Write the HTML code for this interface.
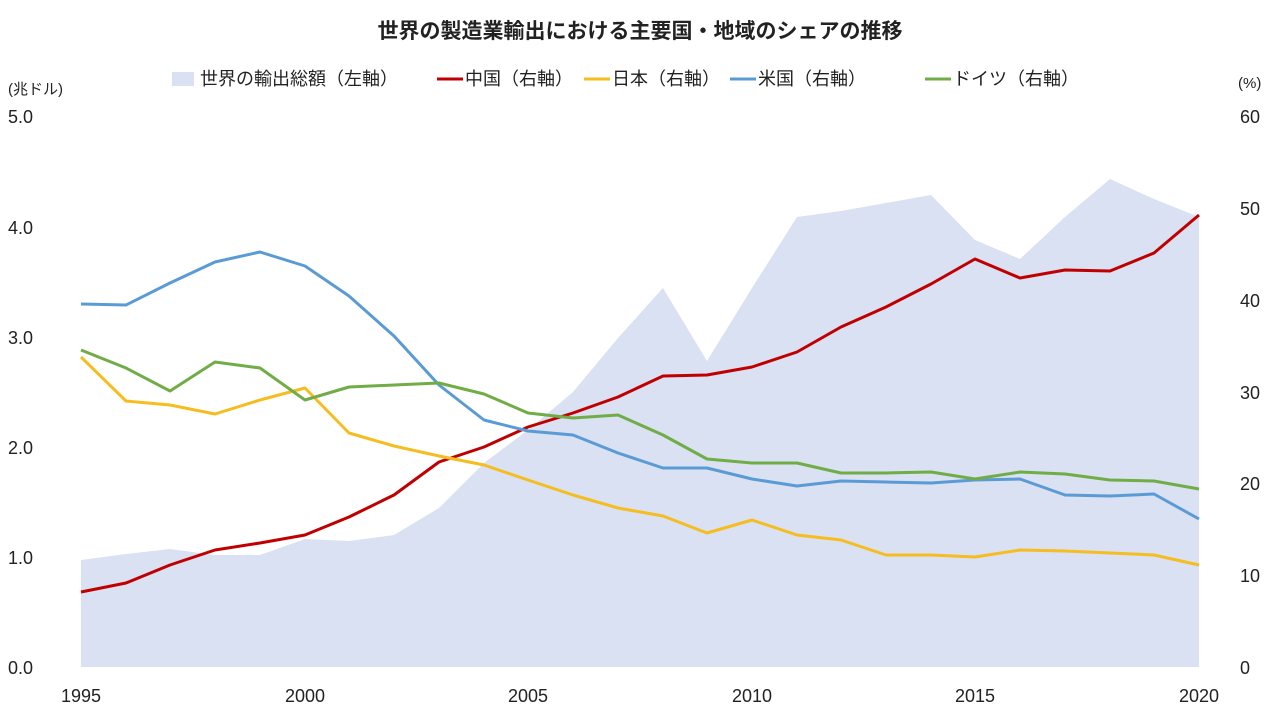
<!DOCTYPE html>
<html><head><meta charset="utf-8"><style>
body{margin:0;background:#fff;}
svg text{font-family:"Liberation Sans","Noto Sans CJK JP",sans-serif;fill:#222;}
</style></head><body>
<svg width="1280" height="720" xmlns="http://www.w3.org/2000/svg">
<text x="640" y="38" text-anchor="middle" font-size="21" font-weight="bold">世界の製造業輸出における主要国・地域のシェアの推移</text>
<rect x="172" y="72" width="22" height="14" fill="#d9e1f2"/>
<text x="200" y="85" font-size="18">世界の輸出総額（左軸）</text>
<line x1="437" y1="79" x2="463" y2="79" stroke="#c00000" stroke-width="3"/>
<text x="465" y="85" font-size="18">中国（右軸）</text>
<line x1="584" y1="79" x2="610" y2="79" stroke="#f5bd1f" stroke-width="3"/>
<text x="612" y="85" font-size="18">日本（右軸）</text>
<line x1="730" y1="79" x2="756" y2="79" stroke="#5b9bd5" stroke-width="3"/>
<text x="758" y="85" font-size="18">米国（右軸）</text>
<line x1="925" y1="79" x2="951" y2="79" stroke="#70ad47" stroke-width="3"/>
<text x="953" y="85" font-size="18">ドイツ（右軸）</text>
<text x="8" y="94" font-size="15">(兆ドル)</text>
<text x="1238" y="88" font-size="15">(%)</text>
<g font-size="18">
<text x="8" y="123">5.0</text><text x="8" y="234">4.0</text><text x="8" y="344">3.0</text><text x="8" y="454">2.0</text><text x="8" y="564">1.0</text><text x="8" y="674">0.0</text>
<text x="1240" y="123">60</text><text x="1240" y="215">50</text><text x="1240" y="307">40</text><text x="1240" y="399">30</text><text x="1240" y="490">20</text><text x="1240" y="582">10</text><text x="1240" y="674">0</text>
<g text-anchor="middle"><text x="81" y="702">1995</text><text x="305" y="702">2000</text><text x="528" y="702">2005</text><text x="752" y="702">2010</text><text x="975" y="702">2015</text><text x="1199" y="702">2020</text></g>
</g>
<polygon fill="#d9e1f2" points="81,667 81,560 126,554 170,549 215,555 260,555 305,539 349,541 394,535 439,508 484,463 528,430 573,392 618,338 663,288 707,361 752,288 797,217 841,211 886,203 931,195 975,240 1020,259 1065,217 1110,179 1154,199 1199,217 1199,667"/>
<g fill="none" stroke-width="3" stroke-linejoin="round">
<polyline stroke="#c00000" points="81,592 126,583 170,565 215,550 260,543 305,535 349,517 394,495 439,462 484,447 528,427 573,413 618,397 663,376 707,375 752,367 797,352 841,327 886,307 931,284 975,259 1020,278 1065,270 1110,271 1154,253 1199,215"/>
<polyline stroke="#f5bd1f" points="81,357 126,401 170,405 215,414 260,400 305,388 349,433 394,446 439,456 484,465 528,480 573,495 618,508 663,516 707,533 752,520 797,535 841,540 886,555 931,555 975,557 1020,550 1065,551 1110,553 1154,555 1199,565"/>
<polyline stroke="#5b9bd5" points="81,304 126,305 170,283 215,262 260,252 305,266 349,296 394,336 439,385 484,420 528,431 573,435 618,453 663,468 707,468 752,479 797,486 841,481 886,482 931,483 975,480 1020,479 1065,495 1110,496 1154,494 1199,519"/>
<polyline stroke="#70ad47" points="81,350 126,368 170,391 215,362 260,368 305,400 349,387 394,385 439,383 484,394 528,413 573,418 618,415 663,435 707,459 752,463 797,463 841,473 886,473 931,472 975,479 1020,472 1065,474 1110,480 1154,481 1199,489"/>
</g>
</svg>
</body></html>
